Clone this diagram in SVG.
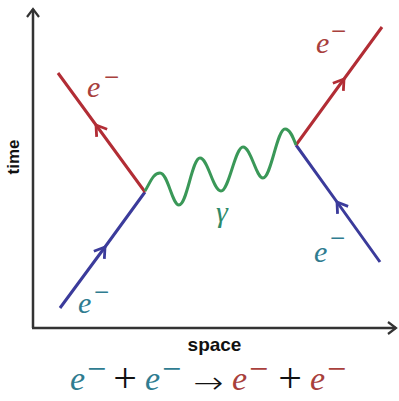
<svg xmlns="http://www.w3.org/2000/svg" width="399" height="401" viewBox="0 0 399 401">
<style>
.axis{stroke:#333;stroke-width:2.5;fill:none}
.red{stroke:#b22d35;stroke-width:3;fill:none}
.blue{stroke:#3b3b9b;stroke-width:3;fill:none}
.wave{stroke:#3a9858;stroke-width:3;fill:none}
.lbl{font-family:"Liberation Serif","DejaVu Serif",serif;font-style:italic;font-size:30px}
.sup{font-family:"Liberation Serif","DejaVu Serif",serif;font-size:27px}
.eq{font-family:"Liberation Serif","DejaVu Serif",serif;font-size:34px}
.op{font-family:"Liberation Serif","DejaVu Serif",serif;font-size:42px;fill:#111}
.arr{font-family:"DejaVu Sans",sans-serif;font-weight:200;font-size:30px;fill:#111}
.ax{font-family:"Liberation Sans",Arial,sans-serif;font-weight:bold;fill:#111}
.r{fill:#a8403c}
.t{fill:#2f7c90}
</style>
<defs>
<marker id="ar" markerUnits="userSpaceOnUse" viewBox="-12 -8 14 16" markerWidth="14" markerHeight="16" refX="0" refY="0" orient="auto">
<path d="M-10,-6.5 L0,0 L-10,6.5" fill="none" stroke="#b22d35" stroke-width="2.8"/>
</marker>
<marker id="ab" markerUnits="userSpaceOnUse" viewBox="-12 -8 14 16" markerWidth="14" markerHeight="16" refX="0" refY="0" orient="auto">
<path d="M-10,-6.5 L0,0 L-10,6.5" fill="none" stroke="#3b3b9b" stroke-width="2.8"/>
</marker>
<marker id="ax" markerUnits="userSpaceOnUse" viewBox="-12 -8 14 16" markerWidth="14" markerHeight="16" refX="0" refY="0" orient="auto">
<path d="M-8,-6 L0,0 L-8,6" fill="none" stroke="#333" stroke-width="2.2"/>
</marker>
</defs>
<rect width="399" height="401" fill="#fff"/>
<g id="axes">
<path class="axis" d="M33,328 L33,9" marker-end="url(#ax)"/>
<path class="axis" d="M32,328 L396,328" marker-end="url(#ax)"/>
<text class="ax" font-size="17" text-anchor="middle" transform="translate(19,157) rotate(-90)">time</text>
<text class="ax" font-size="19" x="214.5" y="351" text-anchor="middle">space</text>
</g>
<g id="connectors">
<path id="in-left" class="blue" d="M60,308 L105,247 L145,192" marker-mid="url(#ab)"/>
<path id="out-left" class="red" d="M145,192 L96,125 L58,73" marker-mid="url(#ar)"/>
<path id="in-right" class="blue" d="M380,262 L337,202 L296,145" marker-mid="url(#ab)"/>
<path id="out-right" class="red" d="M296,145 L344,79 L382,27" marker-mid="url(#ar)"/>
<path id="photon" class="wave" d="M145,191 C150,183 153,173 160,173 C168,173 172,205 179,205 C187,205 192,158 200,158 C208,158 213,191 221,191 C229,191 235,147 243,147 C251,147 256,178 263,178 C271,178 277,129 285,129 C290,129 293,137 296,145"/>
</g>
<g id="label-tl"><text class="lbl r" x="87" y="97">e</text><text class="sup r" x="104" y="86">−</text></g>
<g id="label-tr"><text class="lbl r" x="316" y="53">e</text><text class="sup r" x="331" y="40">−</text></g>
<g id="label-br"><text class="lbl t" x="314" y="262">e</text><text class="sup t" x="330" y="247">−</text></g>
<g id="label-bl"><text class="lbl t" x="78" y="313">e</text><text class="sup t" x="94" y="301">−</text></g>
<g id="label-gamma"><text class="lbl" x="216" y="222" fill="#2e8a6a">γ</text></g>
<g id="equation">
<text class="eq t" font-style="italic" x="70" y="390">e</text>
<text class="eq t" font-size="28" x="87" y="380">−</text>
<text class="op" x="125" y="392" text-anchor="middle">+</text>
<text class="eq t" font-style="italic" x="145" y="390">e</text>
<text class="eq t" font-size="28" x="162" y="380">−</text>
<text class="arr" transform="translate(193,393) scale(1.2,1)">→</text>
<text class="eq r" font-style="italic" x="232" y="390">e</text>
<text class="eq r" font-size="28" x="249" y="380">−</text>
<text class="op" x="290" y="392" text-anchor="middle">+</text>
<text class="eq r" font-style="italic" x="310" y="390">e</text>
<text class="eq r" font-size="28" x="327" y="380">−</text>
</g>
</svg>
